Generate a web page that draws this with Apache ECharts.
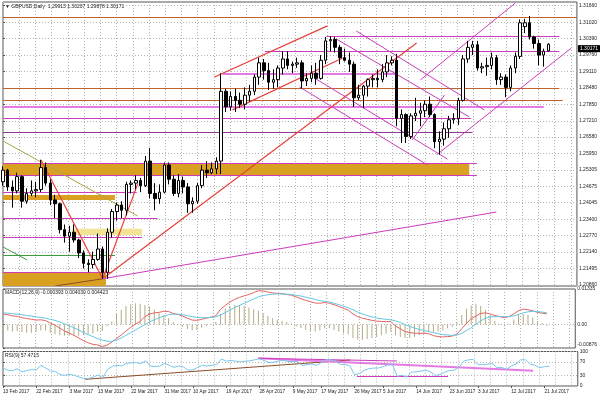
<!DOCTYPE html>
<html>
<head>
<meta charset="utf-8">
<title>GBPUSD Daily</title>
<script src="https://cdn.jsdelivr.net/npm/echarts@6/dist/echarts.min.js"></script>
<style>
  html, body { margin: 0; padding: 0; background: #fff; }
  #chart { width: 600px; height: 401px; }
</style>
</head>
<body>
<div id="chart"></div>
<script>
// trading days: weekdays from 13 Feb 2017, plus a few empty slots after the last bar
const monthNames = ['Jan', 'Feb', 'Mar', 'Apr', 'May', 'Jun', 'Jul', 'Aug']
const dates = []
for (let t = Date.UTC(2017, 1, 13); dates.length < 122; t += 86400000) {
    const d = new Date(t)
    if (d.getUTCDay() === 0 || d.getUTCDay() === 6) continue
    dates.push(d.getUTCDate() + ' ' + monthNames[d.getUTCMonth()] + ' 2017')
}

const tickLabels = ['13 Feb 2017', '22 Feb 2017', '3 Mar 2017', '13 Mar 2017', '22 Mar 2017', '31 Mar 2017',
    '10 Apr 2017', '19 Apr 2017', '28 Apr 2017', '9 May 2017', '17 May 2017', '26 May 2017', '5 Jun 2017',
    '14 Jun 2017', '23 Jun 2017', '3 Jul 2017', '12 Jul 2017', '21 Jul 2017']

const priceTicks = [1.31660, 1.31020, 1.30390, 1.29760, 1.29110, 1.28480, 1.27850, 1.27210, 1.26580,
    1.25950, 1.25305, 1.24675, 1.24045, 1.23400, 1.22770, 1.22140, 1.21495, 1.20860]
const macdTicks = [0.01335, 0, -0.00876]
const rsiTicks = [100, 70, 30, 0]

// daily OHLC
const opens = [
    1.2485, 1.2530, 1.2465, 1.2450, 1.2505, 1.2410, 1.2440, 1.2450, 1.2455, 1.2540, 1.2480, 1.2415,
    1.2400, 1.2300, 1.2275, 1.2290, 1.2260, 1.2210, 1.2170, 1.2165, 1.2185, 1.2225, 1.2135, 1.2290,
    1.2370, 1.2395, 1.2375, 1.2475, 1.2480, 1.2490, 1.2470, 1.2565, 1.2440, 1.2420, 1.2445,
    1.2550, 1.2495, 1.2440, 1.2490, 1.2465, 1.2400, 1.2410, 1.2470, 1.2530, 1.2520, 1.2535, 1.2565,
    1.2835, 1.2775, 1.2815, 1.2800, 1.2785, 1.2820, 1.2835, 1.2890,
    1.2945, 1.2915, 1.2870, 1.2880, 1.2925, 1.2960, 1.2935, 1.2940, 1.2945, 1.2875, 1.2885, 1.2905,
    1.2885, 1.2955, 1.3030, 1.3035, 1.3005, 1.2965, 1.2955, 1.2940, 1.2810, 1.2820, 1.2855,
    1.2880, 1.2885, 1.2880, 1.2910, 1.2945, 1.2955, 1.2730, 1.2745, 1.2660, 1.2740, 1.2750, 1.2760,
    1.2785, 1.2745, 1.2640, 1.2650, 1.2690, 1.2725, 1.2730, 1.2800, 1.2960, 1.3005,
    1.3015, 1.2925, 1.2930, 1.2935, 1.2965, 1.2880, 1.2890, 1.2850, 1.2925, 1.2970, 1.3085, 1.3100,
    1.3045, 1.3020, 1.2975, 1.29913
]
const highs = [
    1.2545, 1.2535, 1.2490, 1.2520, 1.2510, 1.2460, 1.2490, 1.2485, 1.2570, 1.2560, 1.2495, 1.2435,
    1.2405, 1.2320, 1.2315, 1.2320, 1.2265, 1.2220, 1.2185, 1.2215, 1.2285, 1.2235, 1.2305, 1.2380,
    1.2405, 1.2410, 1.2485, 1.2490, 1.2510, 1.2500, 1.2585, 1.2615, 1.2480, 1.2475, 1.2560,
    1.2560, 1.2510, 1.2515, 1.2505, 1.2480, 1.2425, 1.2480, 1.2550, 1.2565, 1.2560, 1.2580, 1.2905,
    1.2845, 1.2835, 1.2845, 1.2830, 1.2850, 1.2860, 1.2900, 1.2965,
    1.2960, 1.2945, 1.2920, 1.2935, 1.2990, 1.2990, 1.2950, 1.2965, 1.2955, 1.2905, 1.2935, 1.2945,
    1.2975, 1.3045, 1.3048, 1.3045, 1.3015, 1.3000, 1.2985, 1.2950, 1.2860, 1.2860, 1.2885,
    1.2900, 1.2920, 1.2940, 1.2975, 1.2970, 1.2980, 1.2765, 1.2750, 1.2750, 1.2810, 1.2790, 1.2800,
    1.2815, 1.2750, 1.2680, 1.2715, 1.2740, 1.2750, 1.2810, 1.2975, 1.3030, 1.3030,
    1.3030, 1.2945, 1.2965, 1.2985, 1.2975, 1.2905, 1.2900, 1.2935, 1.2985, 1.3113, 1.3115, 1.3126,
    1.3050, 1.3035, 1.3000, 1.30207
]
const lows = [
    1.2470, 1.2450, 1.2385, 1.2440, 1.2385, 1.2400, 1.2430, 1.2425, 1.2445, 1.2470, 1.2395, 1.2345,
    1.2285, 1.2250, 1.2215, 1.2250, 1.2190, 1.2150, 1.2135, 1.2150, 1.2180, 1.2110, 1.2110, 1.2270,
    1.2335, 1.2345, 1.2355, 1.2440, 1.2455, 1.2445, 1.2465, 1.2420, 1.2375, 1.2400, 1.2440,
    1.2475, 1.2430, 1.2425, 1.2440, 1.2365, 1.2365, 1.2400, 1.2460, 1.2500, 1.2515, 1.2515, 1.2515,
    1.2755, 1.2760, 1.2755, 1.2770, 1.2765, 1.2795, 1.2820, 1.2860,
    1.2880, 1.2840, 1.2845, 1.2850, 1.2900, 1.2920, 1.2905, 1.2925, 1.2845, 1.2855, 1.2870, 1.2860,
    1.2880, 1.2940, 1.2990, 1.2985, 1.2940, 1.2950, 1.2910, 1.2775, 1.2800, 1.2770, 1.2815,
    1.2850, 1.2850, 1.2870, 1.2890, 1.2935, 1.2700, 1.2635, 1.2635, 1.2650, 1.2720, 1.2700, 1.2735,
    1.2735, 1.2615, 1.2590, 1.2625, 1.2655, 1.2710, 1.2705, 1.2795, 1.2945, 1.2975,
    1.2915, 1.2905, 1.2895, 1.2920, 1.2860, 1.2860, 1.2812, 1.2835, 1.2905, 1.2960, 1.3060, 1.3035,
    1.3000, 1.2935, 1.2930, 1.29878
]
const closes = [
    1.2530, 1.2465, 1.2450, 1.2505, 1.2410, 1.2440, 1.2450, 1.2455, 1.2540, 1.2480, 1.2415, 1.2400,
    1.2300, 1.2275, 1.2290, 1.2260, 1.2210, 1.2170, 1.2165, 1.2185, 1.2225, 1.2135, 1.2290, 1.2370,
    1.2395, 1.2375, 1.2475, 1.2480, 1.2490, 1.2470, 1.2565, 1.2440, 1.2420, 1.2445, 1.2550,
    1.2495, 1.2440, 1.2490, 1.2465, 1.2400, 1.2410, 1.2470, 1.2530, 1.2520, 1.2535, 1.2565, 1.2835,
    1.2775, 1.2815, 1.2800, 1.2785, 1.2820, 1.2835, 1.2890, 1.2945,
    1.2915, 1.2870, 1.2880, 1.2925, 1.2960, 1.2935, 1.2940, 1.2945, 1.2875, 1.2885, 1.2905, 1.2885,
    1.2955, 1.3030, 1.3035, 1.3005, 1.2965, 1.2955, 1.2940, 1.2810, 1.2820, 1.2855, 1.2880,
    1.2885, 1.2880, 1.2910, 1.2945, 1.2955, 1.2730, 1.2745, 1.2660, 1.2740, 1.2750, 1.2760, 1.2785,
    1.2745, 1.2640, 1.2650, 1.2690, 1.2725, 1.2730, 1.2800, 1.2960, 1.3005, 1.3015,
    1.2925, 1.2930, 1.2935, 1.2965, 1.2880, 1.2890, 1.2850, 1.2925, 1.2970, 1.3100, 1.3100, 1.3045,
    1.3020, 1.2975, 1.2990, 1.30171
]

// MACD(12,26,9): main line, signal line, histogram
const macdMain = [
    0.0040, 0.0037, 0.0033, 0.0031, 0.0026, 0.0023, 0.0020, 0.0017, 0.0018, 0.0015, 0.0006, -0.0002,
    -0.0013, -0.0024, -0.0032, -0.0040, -0.0050, -0.0060, -0.0068, -0.0074, -0.0076, -0.0082, -0.0077, -0.0066,
    -0.0052, -0.0039, -0.0024, -0.0010, 0.0002, 0.0012, 0.0030, 0.0040, 0.0044, 0.0046, 0.0050, 0.0049,
    0.0042, 0.0038, 0.0032, 0.0024, 0.0017, 0.0016, 0.0020, 0.0024, 0.0028, 0.0033, 0.0058, 0.0072,
    0.0085, 0.0095, 0.0102, 0.0108, 0.0113, 0.0120, 0.0127, 0.0126, 0.0122, 0.0119, 0.0117, 0.0116,
    0.0113, 0.0110, 0.0104, 0.0097, 0.0091, 0.0086, 0.0081, 0.0080, 0.0083, 0.0080, 0.0075, 0.0068,
    0.0061, 0.0054, 0.0040, 0.0030, 0.0024, 0.0020, 0.0016, 0.0013, 0.0012, 0.0011, 0.0012, -0.0006,
    -0.0015, -0.0026, -0.0030, -0.0032, -0.0033, -0.0032, -0.0034, -0.0041, -0.0045, -0.0046, -0.0045, -0.0043,
    -0.0035, -0.0015, 0.0005, 0.0022, 0.0032, 0.0042, 0.0044, 0.0040, 0.0034, 0.0030, 0.0026, 0.0030,
    0.0040, 0.0052, 0.0058, 0.0056, 0.0052, 0.0046, 0.0043, 0.00403
]
const macdSignal = [
    0.0044, 0.0043, 0.0041, 0.0039, 0.0037, 0.0034, 0.0032, 0.0029, 0.0027, 0.0024, 0.0020, 0.0016,
    0.0010, 0.0003, -0.0004, -0.0012, -0.0020, -0.0029, -0.0037, -0.0045, -0.0052, -0.0058, -0.0062, -0.0063,
    -0.0058, -0.0050, -0.0040, -0.0030, -0.0020, -0.0010, 0.0000, 0.0010, 0.0018, 0.0026, 0.0032, 0.0037,
    0.0039, 0.0039, 0.0037, 0.0034, 0.0030, 0.0027, 0.0026, 0.0026, 0.0027, 0.0029, 0.0036, 0.0045,
    0.0055, 0.0064, 0.0072, 0.0080, 0.0088, 0.0096, 0.0104, 0.0109, 0.0112, 0.0114, 0.0115, 0.0115,
    0.0114, 0.0113, 0.0110, 0.0107, 0.0103, 0.0099, 0.0094, 0.0090, 0.0087, 0.0085, 0.0080, 0.0075,
    0.0069, 0.0063, 0.0056, 0.0047, 0.0040, 0.0034, 0.0029, 0.0025, 0.0022, 0.0020, 0.0018, 0.0014,
    0.0008, 0.0000, -0.0007, -0.0013, -0.0018, -0.0022, -0.0026, -0.0030, -0.0034, -0.0037, -0.0039, -0.0040,
    -0.0039, -0.0032, -0.0022, -0.0012, 0.0002, 0.0014, 0.0024, 0.0029, 0.0030, 0.0030, 0.0030, 0.0030,
    0.0033, 0.0038, 0.0044, 0.0048, 0.0050, 0.0049, 0.0047, 0.004423
]
const macdHist = [
    -0.0020, -0.0022, -0.0026, -0.0024, -0.0028, -0.0030, -0.0030, -0.0028, -0.0022, -0.0022, -0.0030, -0.0036,
    -0.0040, -0.0042, -0.0042, -0.0040, -0.0042, -0.0040, -0.0036, -0.0032, -0.0026, -0.0024, -0.0006, 0.0012,
    0.0040, 0.0056, 0.0070, 0.0076, 0.0080, 0.0078, 0.0074, 0.0068, 0.0056, 0.0044, 0.0034, 0.0024,
    0.0010, 0.0002, -0.0008, -0.0016, -0.0022, -0.0020, -0.0012, -0.0006, 0.0002, 0.0010, 0.0040, 0.0060,
    0.0070, 0.0074, 0.0074, 0.0070, 0.0064, 0.0058, 0.0052, 0.0044, 0.0032, 0.0024, 0.0018, 0.0014,
    0.0010, 0.0004, -0.0006, -0.0014, -0.0020, -0.0024, -0.0026, -0.0022, -0.0014, -0.0014, -0.0020, -0.0026,
    -0.0032, -0.0036, -0.0050, -0.0056, -0.0058, -0.0054, -0.0050, -0.0046, -0.0040, -0.0034, -0.0026, -0.0040,
    -0.0046, -0.0050, -0.0050, -0.0046, -0.0040, -0.0034, -0.0028, -0.0028, -0.0026, -0.0022, -0.0014, -0.0008,
    0.0008, 0.0036, 0.0060, 0.0072, 0.0078, 0.0070, 0.0056, 0.0036, 0.0014, 0.0002, -0.0006, 0.0002,
    0.0018, 0.0036, 0.0040, 0.0036, 0.0026, 0.0014, 0.0006, -0.0004
]

// RSI(9)
const rsiValues = [
    52, 46, 44, 50, 41, 45, 47, 47, 60, 52, 44, 42,
    33, 31, 34, 31, 26, 22, 22, 26, 32, 24, 48, 57,
    60, 58, 66, 67, 68, 65, 73, 58, 56, 58, 66, 60,
    54, 58, 55, 46, 47, 54, 60, 58, 60, 62, 78, 72,
    74, 72, 70, 72, 73, 76, 79, 74, 68, 69, 72, 75,
    71, 71, 71, 60, 62, 64, 60, 68, 76, 76, 71, 63,
    62, 59, 33, 36, 45, 50, 52, 52, 56, 61, 62, 28,
    31, 26, 40, 41, 43, 46, 41, 31, 33, 40, 45, 46,
    55, 72, 76, 77, 62, 62, 63, 66, 53, 54, 48, 58,
    64, 76, 76, 64, 60, 53, 56, 57.4715
]

// drawn objects on the price chart: [fromBar, fromPrice, toBar, toPrice, kind]
const priceObjects = [
    [0, 1.3122, 121, 1.3122, 'orange'],
    [68.2, 1.3047, 117.3, 1.3047, 'magenta'],
    [55.2, 1.2991, 117.3, 1.2991, 'magenta'],
    [46.3, 1.2904, 83, 1.2904, 'pink'],
    [0, 1.2848, 117.3, 1.2848, 'orange'],
    [0, 1.2799, 118, 1.2799, 'orange'],
    [0, 1.2774, 114, 1.2774, 'pink'],
    [0, 1.2730, 98.7, 1.2730, 'magenta'],
    [0, 1.2678, 99, 1.2678, 'purple'],
    [0, 1.2558, 99.9, 1.2558, 'magenta'],
    [0, 1.2511, 99.9, 1.2511, 'magenta'],
    [0, 1.2446, 28.2, 1.2446, 'magenta'],
    [0, 1.2345, 32.6, 1.2345, 'magenta'],
    [0, 1.2272, 29.3, 1.2272, 'magenta'],
    [0, 1.2202, 23.6, 1.2202, 'green'],
    [0, 1.2136, 23, 1.2136, 'magenta'],
    [0, 1.2233, 5.05, 1.2183, 'green'],
    [0, 1.2643, 28.4, 1.2353, 'olive'],
    [8, 1.2570, 21, 1.2110, 'red'],
    [21, 1.2110, 28.4, 1.2477, 'red'],
    [21, 1.2110, 87.2, 1.3022, 'red'],
    [44.6, 1.2890, 68.4, 1.3088, 'red'],
    [48.4, 1.2763, 71.6, 1.2964, 'red'],
    [70.3, 1.3037, 98.3, 1.2736, 'magenta'],
    [74.5, 1.3068, 101.5, 1.2763, 'magenta'],
    [65.7, 1.2886, 93.7, 1.2573, 'magenta'],
    [62.5, 1.2852, 89.5, 1.2550, 'magenta'],
    [88, 1.2879, 108, 1.3176, 'magenta'],
    [91.4, 1.2589, 119.8, 1.3002, 'magenta'],
    [86.3, 1.2647, 93.1, 1.2821, 'magenta'],
    [21, 1.2110, 104, 1.2368, 'magenta'],
    [11, 1.2082, 21, 1.2110, 'brown']
]
// filled price zones: [fromBar, toBar, lowPrice, highPrice]
const priceZones = [
    [0, 98.3, 1.2511, 1.2558],
    [0, 23.6, 1.2415, 1.2434],
    [14.5, 29.3, 1.2279, 1.2303],
    [0, 21.7, 1.20821, 1.2136]
]
const zoneKinds = ['gold', 'gold', 'yellow', 'gold']

// drawn objects on the RSI window: [fromBar, fromRsi, toBar, toRsi, kind]
const rsiObjects = [
    [17.3, 19.4, 73.1, 75.4, 'brown'],
    [53.7, 80.3, 111.6, 44.3, 'pink'],
    [53.7, 80.3, 82.9, 72.5, 'magenta'],
    [74.5, 27, 93.7, 27, 'magenta']
]

const FONT = 'Liberation Sans'
const lineKinds = {
    orange: { color: '#c0642f', width: 1 },
    magenta: { color: '#cc3cbc', width: 1 },
    pink: { color: '#e47ae4', width: 2 },
    purple: { color: '#8c3c94', width: 1 },
    red: { color: '#e8403c', width: 1.2 },
    olive: { color: '#a8a448', width: 1 },
    green: { color: '#3c9c3c', width: 1 },
    brown: { color: '#8c4a28', width: 1 }
}
const zoneColors = { gold: '#daa021', yellow: '#f3e394' }

// vertical grid every ~3.4 bars, like the terminal
const gridX = []
for (let k = 0; k * 3.421 <= dates.length - 1; k++) gridX.push(k * 3.421)

const labelFont = { fontFamily: FONT, fontSize: 5, color: '#222' }
const dotted = { color: '#b4b4b4', type: [1, 2], width: 1 }
const lastClose = closes[closes.length - 1]

function categoryAxis(gridIndex, withLabels) {
    const isTick = (index, value) => tickLabels.indexOf(value) >= 0
    return {
        type: 'category', gridIndex: gridIndex, data: dates, boundaryGap: false,
        axisLine: { show: false },
        axisTick: withLabels ? { show: true, interval: isTick, length: 2, lineStyle: { color: '#555' } } : { show: false },
        axisLabel: withLabels ? { interval: isTick, align: 'left', margin: 3, ...labelFont, fontSize: 4.7 } : { show: false },
        splitLine: { show: false }
    }
}
function overlayAxis(gridIndex) {
    return {
        type: 'value', gridIndex: gridIndex, min: 0, max: dates.length - 1,
        axisLine: { show: false }, axisLabel: { show: false },
        axisTick: { show: false, customValues: gridX },
        splitLine: { show: true, lineStyle: dotted }
    }
}
function segments(list) {
    return list.map(o => ({
        coords: [[o[0], o[1]], [o[2], o[3]]],
        lineStyle: { color: lineKinds[o[4]].color, width: lineKinds[o[4]].width, opacity: 1 }
    }))
}

const grids = [
    { left: 3, right: 22.25, top: 2, height: 284 },
    { left: 3, right: 22.25, top: 289, height: 59 },
    { left: 3, right: 22.25, top: 351.5, height: 34.5 }
].map(g => ({ ...g, show: true, borderColor: '#555', borderWidth: 1 }))

const option = {
    animation: false,
    backgroundColor: '#fff',
    title: [
        { text: '\u25BC GBPUSD,Daily  ' + [opens, highs, lows, closes].map(a => a[a.length - 1].toFixed(5)).join(' '),
          left: 5, top: 4, padding: 0, textStyle: { ...labelFont, fontWeight: 'normal' } },
        { text: 'MACD(12,26,9) -0.000393 0.004030 0.004423', left: 5, top: 290, padding: 0,
          textStyle: { ...labelFont, fontWeight: 'normal' } },
        { text: 'RSI(9) 57.4715', left: 5, top: 353, padding: 0, textStyle: { ...labelFont, fontWeight: 'normal' } }
    ],
    grid: grids,
    xAxis: [categoryAxis(0, false), categoryAxis(1, false), categoryAxis(2, true),
        overlayAxis(0), overlayAxis(1), overlayAxis(2)],
    yAxis: [
        {
            type: 'value', gridIndex: 0, position: 'right', min: 1.20821, max: 1.31803,
            axisLine: { show: false },
            axisTick: { show: true, length: 2, customValues: priceTicks, lineStyle: { color: '#555' } },
            axisLabel: { customValues: priceTicks, formatter: v => v.toFixed(5), margin: 2, ...labelFont },
            splitLine: { show: true, lineStyle: dotted }
        },
        {
            type: 'value', gridIndex: 1, position: 'right', min: -0.00876, max: 0.01335,
            axisLine: { show: false },
            axisTick: { show: true, length: 2, customValues: macdTicks, lineStyle: { color: '#555' } },
            axisLabel: {
                customValues: macdTicks, margin: 2, ...labelFont,
                formatter: v => v === 0 ? '0.00' : (v < 0 ? '{low|' + v.toFixed(5) + '}' : v.toFixed(5)),
                rich: { low: { ...labelFont, padding: [0, 0, 6, 0] } }
            },
            splitLine: { show: true, lineStyle: dotted }
        },
        {
            type: 'value', gridIndex: 2, position: 'right', min: 0, max: 100,
            axisLine: { show: false },
            axisTick: { show: true, length: 2, customValues: rsiTicks, lineStyle: { color: '#555' } },
            axisLabel: { customValues: rsiTicks, margin: 2, ...labelFont },
            splitLine: { show: true, lineStyle: dotted }
        }
    ],
    series: [
        {
            type: 'custom', xAxisIndex: 3, yAxisIndex: 0, silent: true, z: 1,
            data: priceZones,
            encode: { x: [0, 1], y: [2, 3] },
            renderItem: (params, api) => {
                const a = api.coord([api.value(0), api.value(3)])
                const b = api.coord([api.value(1), api.value(2)])
                return {
                    type: 'rect',
                    shape: { x: a[0], y: a[1], width: b[0] - a[0], height: b[1] - a[1] },
                    style: { fill: zoneColors[zoneKinds[params.dataIndex]] }
                }
            }
        },
        {
            type: 'lines', coordinateSystem: 'cartesian2d', xAxisIndex: 3, yAxisIndex: 0,
            silent: true, z: 2, data: segments(priceObjects)
        },
        {
            name: 'GBPUSD', type: 'candlestick', xAxisIndex: 0, yAxisIndex: 0, z: 5,
            barWidth: 3,
            data: opens.map((o, i) => [o, closes[i], lows[i], highs[i]]),
            itemStyle: { color: '#ffffff', color0: '#000000', borderColor: '#000000', borderColor0: '#000000', borderWidth: 1 },
            markLine: {
                silent: true, symbol: ['none', 'none'],
                lineStyle: { color: 'rgba(0,0,0,0)' },
                label: {
                    position: 'end', distance: 1, formatter: lastClose.toFixed(5),
                    backgroundColor: '#000', color: '#fff', padding: [1, 2, 1, 2],
                    fontFamily: FONT, fontSize: 5
                },
                data: [{ yAxis: lastClose }]
            }
        },
        {
            name: 'OsMA', type: 'bar', xAxisIndex: 1, yAxisIndex: 1, barWidth: 1,
            data: macdHist, itemStyle: { color: '#b4ab86' }
        },
        {
            name: 'MACD', type: 'line', xAxisIndex: 1, yAxisIndex: 1, symbol: 'none',
            data: macdMain, lineStyle: { color: '#e46464', width: 1 }
        },
        {
            name: 'Signal', type: 'line', xAxisIndex: 1, yAxisIndex: 1, symbol: 'none',
            data: macdSignal, lineStyle: { color: '#64c8e4', width: 1 }
        },
        {
            name: 'RSI', type: 'line', xAxisIndex: 2, yAxisIndex: 2, symbol: 'none',
            data: rsiValues, lineStyle: { color: '#7cc6ea', width: 1 }
        },
        {
            type: 'lines', coordinateSystem: 'cartesian2d', xAxisIndex: 5, yAxisIndex: 2,
            silent: true, z: 3, data: segments(rsiObjects)
        }
    ]
}

const chart = echarts.init(document.getElementById('chart'))
chart.setOption(option)
</script>
</body>
</html>
